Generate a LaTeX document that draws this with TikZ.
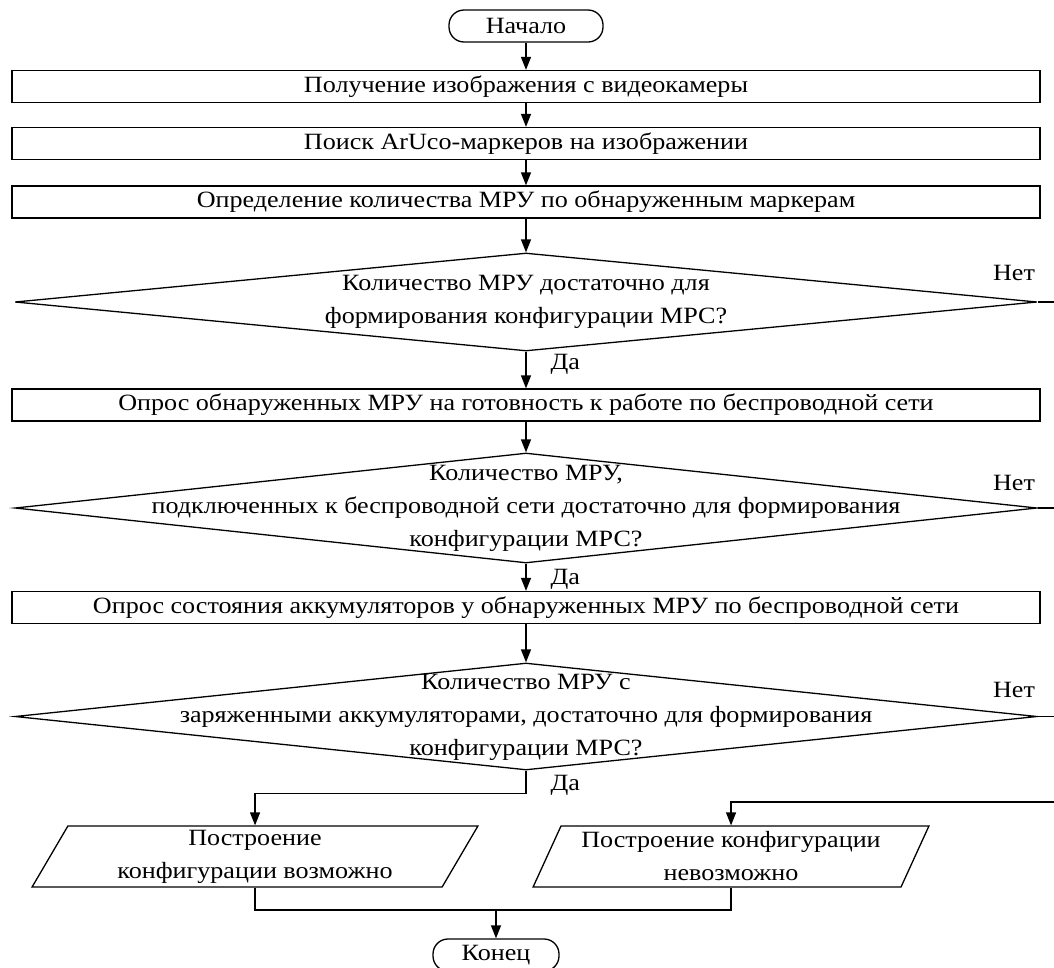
\documentclass[tikz,border=0pt]{standalone}
\usepackage{fontspec}
\setmainfont{Liberation Serif}[FakeStretch=1.12]
\usetikzlibrary{shapes.geometric,arrows.meta}

\begin{document}
\begin{tikzpicture}[x=1pt,y=-1pt,line width=1.3pt,>={Triangle[width=10pt,length=13pt]},
    every node/.style={font=\fontsize{23.3}{33}\selectfont,inner sep=2pt},
    term/.style={draw,rounded corners=15pt,minimum height=32pt},
    procbox/.style={draw,minimum width=1028pt,minimum height=32pt},
    decision/.style={draw,diamond,inner sep=0pt,minimum width=1022pt},
    io/.style={draw,trapezium,trapezium left angle=65,trapezium right angle=115,
        trapezium stretches=true,minimum height=61pt,align=center}]
    \useasboundingbox (0,0) rectangle (1054,967);

    \node[term,minimum width=154pt] (1) at (526,26) {Начало};
    \node[procbox] (2) at (526,86.5) {Получение изображения с видеокамеры};
    \node[procbox] (3) at (526,143.5) {Поиск ArUco-маркеров на изображении};
    \node[procbox] (4) at (526,202) {Определение количества МРУ по обнаруженным маркерам};
    \node[decision,minimum height=98pt] (5) at (526,302) {};
    \node[align=center] (5t) at (526,302) {Количество МРУ достаточно для\\формирования конфигурации МРС?};
    \node[procbox] (6) at (526,405) {Опрос обнаруженных МРУ на готовность к работе по беспроводной сети};
    \node[decision,minimum height=110pt] (7) at (526,508) {};
    \node[align=center] (7t) at (526,508) {Количество МРУ,\\подключенных к беспроводной сети достаточно для формирования\\конфигурации МРС?};
    \node[procbox] (8) at (526,607.5) {Опрос состояния аккумуляторов у обнаруженных МРУ по беспроводной сети};
    \node[decision,minimum height=107pt] (9) at (526,716.5) {};
    \node[align=center] (9t) at (526,717) {Количество МРУ с\\заряженными аккумуляторами, достаточно для формирования\\конфигурации МРС?};
    \node[io,minimum width=446pt] (10) at (255,856.5) {Построение\\конфигурации возможно};
    \node[io,minimum width=397pt] (11) at (731,856.5) {Построение конфигурации\\невозможно};
    \node[term,minimum width=126pt] (12) at (496,955) {Конец};

    \node[anchor=west] (y5) at (548,364) {Да};
    \node[anchor=west] (y7) at (548,579) {Да};
    \node[anchor=west] (y9) at (548,785) {Да};
    \node (n5) at (1014,273) {Нет};
    \node (n7) at (1014,483) {Нет};
    \node (n9) at (1014,690) {Нет};

    \coordinate (r) at (1054,802);
    \coordinate (j) at (496,910);

    \draw[->] (1) -- (2);
    \draw[->] (2) -- (3);
    \draw[->] (3) -- (4);
    \draw[->] (4) -- (5);
    \draw[->] (5) -- (6);
    \draw[->] (6) -- (7);
    \draw[->] (7) -- (8);
    \draw[->] (8) -- (9);
    \draw[->] (9.south) -- ++(0,23) -| (10.north);
    \draw (5.east) -- (5.east -| r);
    \draw (7.east) -- (7.east -| r);
    \draw (9.east) -- (9.east -| r);
    \draw[->] (r) -| (11.north);
    \draw (10.south) |- (j) -| (11.south);
    \draw[->] (j) -- (12);
\end{tikzpicture}
\end{document}
